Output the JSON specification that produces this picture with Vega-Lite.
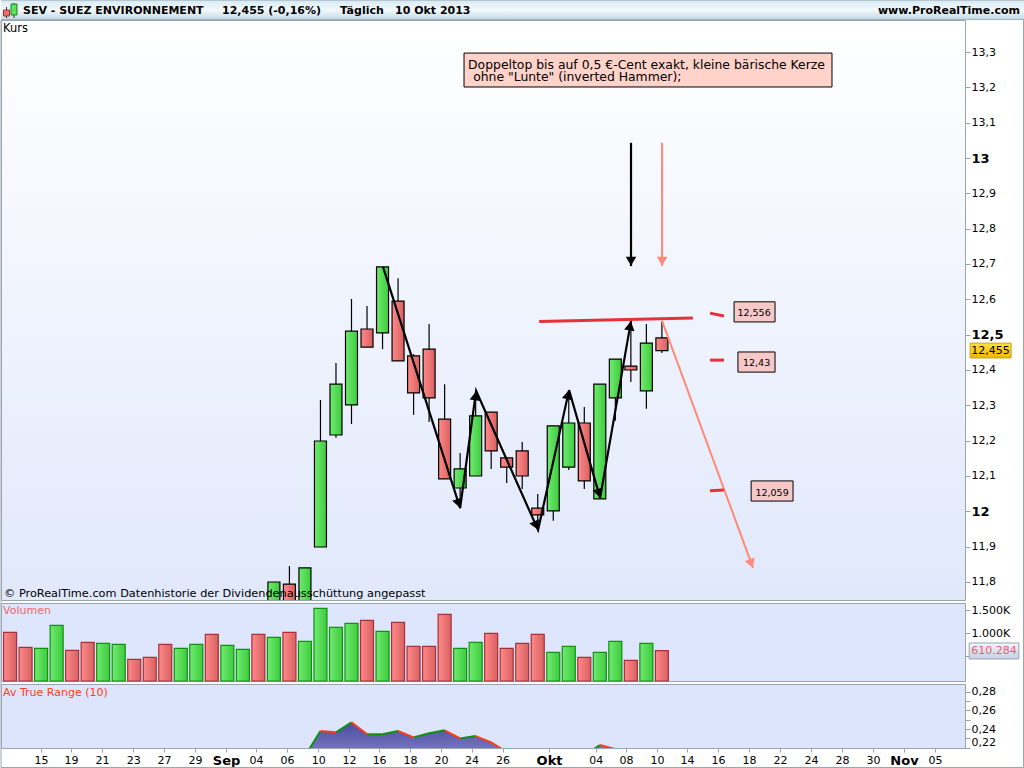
{"$schema":"https://vega.github.io/schema/vega-lite/v6.json","padding":0,"background":"#ffffff","config":{"font":"DejaVu Sans","view":{"stroke":"#98a4b0"},"axis":{"grid":false,"title":null,"domainColor":"#98a4b0","tickColor":"#98a4b0","labelColor":"#000000","labelFont":"DejaVu Sans","labelFontSize":11,"labelOverlap":false,"labelFlush":false}},
"datasets":{"bars":[
{"slot":0,"date":"2013-08-13","dir":"down","volume":1015},{"slot":1,"date":"2013-08-14","dir":"down","volume":684},{"slot":2,"date":"2013-08-15","dir":"up","volume":662},{"slot":3,"date":"2013-08-16","dir":"up","volume":1169},{"slot":4,"date":"2013-08-19","dir":"down","volume":618},{"slot":5,"date":"2013-08-20","dir":"down","volume":794},{"slot":6,"date":"2013-08-21","dir":"up","volume":772},{"slot":7,"date":"2013-08-22","dir":"up","volume":750},{"slot":8,"date":"2013-08-23","dir":"down","volume":420},{"slot":9,"date":"2013-08-26","dir":"down","volume":464},{"slot":10,"date":"2013-08-27","dir":"down","volume":750},{"slot":11,"date":"2013-08-28","dir":"up","volume":662},{"slot":12,"date":"2013-08-29","dir":"up","volume":750},{"slot":13,"date":"2013-08-30","dir":"down","volume":971},{"slot":14,"date":"2013-09-02","dir":"up","volume":728},{"slot":15,"date":"2013-09-03","dir":"up","volume":640},{"slot":16,"date":"2013-09-04","dir":"down","volume":971},
{"slot":17,"date":"2013-09-05","dir":"up","volume":905,"open":11.7,"high":11.8,"low":11.7,"close":11.8},
{"slot":18,"date":"2013-09-06","dir":"down","volume":1015,"open":11.794,"high":11.845,"low":11.7,"close":11.7},
{"slot":19,"date":"2013-09-09","dir":"up","volume":816,"open":11.7,"high":11.84,"low":11.7,"close":11.84,"atr":0.2108},
{"slot":20,"date":"2013-09-10","dir":"up","volume":1543,"open":11.899,"high":12.315,"low":11.899,"close":12.199,"atr":0.2378},
{"slot":21,"date":"2013-09-11","dir":"up","volume":1125,"open":12.216,"high":12.42,"low":12.208,"close":12.36,"atr":0.2364},
{"slot":22,"date":"2013-09-12","dir":"up","volume":1213,"open":12.301,"high":12.601,"low":12.247,"close":12.51,"atr":0.2472},
{"slot":23,"date":"2013-09-13","dir":"down","volume":1279,"open":12.516,"high":12.581,"low":12.465,"close":12.465,"atr":0.2343},
{"slot":24,"date":"2013-09-16","dir":"up","volume":1037,"open":12.505,"high":12.692,"low":12.459,"close":12.692,"atr":0.2343},
{"slot":25,"date":"2013-09-17","dir":"down","volume":1235,"open":12.595,"high":12.66,"low":12.426,"close":12.426,"atr":0.2378},
{"slot":26,"date":"2013-09-18","dir":"down","volume":706,"open":12.44,"high":12.445,"low":12.273,"close":12.335,"atr":0.231},
{"slot":27,"date":"2013-09-19","dir":"down","volume":706,"open":12.459,"high":12.53,"low":12.253,"close":12.321,"atr":0.2354},
{"slot":28,"date":"2013-09-20","dir":"down","volume":1411,"open":12.261,"high":12.36,"low":12.092,"close":12.092,"atr":0.2386},
{"slot":29,"date":"2013-09-23","dir":"up","volume":662,"open":12.066,"high":12.165,"low":12.032,"close":12.12,"atr":0.2299},
{"slot":30,"date":"2013-09-24","dir":"up","volume":794,"open":12.1,"high":12.338,"low":12.1,"close":12.27,"atr":0.2324},
{"slot":31,"date":"2013-09-25","dir":"down","volume":993,"open":12.281,"high":12.281,"low":12.12,"close":12.171,"atr":0.2256},
{"slot":32,"date":"2013-09-26","dir":"down","volume":662,"open":12.151,"high":12.154,"low":12.08,"close":12.125,"atr":0.2151},
{"slot":33,"date":"2013-09-27","dir":"down","volume":772,"open":12.171,"high":12.196,"low":12.063,"close":12.1,"atr":0.212},
{"slot":34,"date":"2013-09-30","dir":"down","volume":971,"open":12.009,"high":12.049,"low":11.947,"close":11.99,"atr":0.21},
{"slot":35,"date":"2013-10-01","dir":"up","volume":574,"open":12.001,"high":12.242,"low":11.973,"close":12.242,"atr":0.208},
{"slot":36,"date":"2013-10-02","dir":"up","volume":706,"open":12.125,"high":12.343,"low":12.117,"close":12.25,"atr":0.207},
{"slot":37,"date":"2013-10-03","dir":"down","volume":464,"open":12.25,"high":12.295,"low":12.063,"close":12.086,"atr":0.2111},
{"slot":38,"date":"2013-10-04","dir":"up","volume":574,"open":12.035,"high":12.36,"low":12.035,"close":12.36,"atr":0.2227},
{"slot":39,"date":"2013-10-07","dir":"up","volume":816,"open":12.321,"high":12.431,"low":12.256,"close":12.431,"atr":0.2183},
{"slot":40,"date":"2013-10-08","dir":"down","volume":398,"open":12.411,"high":12.533,"low":12.366,"close":12.4,"atr":0.216},
{"slot":41,"date":"2013-10-09","dir":"up","volume":772,"open":12.341,"high":12.53,"low":12.29,"close":12.476,"atr":0.214},
{"slot":42,"date":"2013-10-10","dir":"down","volume":610.284,"open":12.491,"high":12.539,"low":12.448,"close":12.455,"atr":0.212}
],
"lines":[
{"id":"zig","tone":"black","ord":0,"s":24.03,"p":12.692},{"id":"zig","tone":"black","ord":1,"s":29.0,"p":12.009},{"id":"zig","tone":"black","ord":2,"s":30.03,"p":12.341},{"id":"zig","tone":"black","ord":3,"s":34.02,"p":11.947},{"id":"zig","tone":"black","ord":4,"s":36.02,"p":12.343},{"id":"zig","tone":"black","ord":5,"s":38.02,"p":12.038},{"id":"zig","tone":"black","ord":6,"s":40.01,"p":12.539},
{"id":"v1","tone":"black","ord":0,"s":40.01,"p":13.043},{"id":"v1","tone":"black","ord":1,"s":40.01,"p":12.694},
{"id":"v2","tone":"salmon","ord":0,"s":42.01,"p":13.043},{"id":"v2","tone":"salmon","ord":1,"s":42.01,"p":12.694},
{"id":"d1","tone":"salmon","ord":0,"s":42.01,"p":12.539},{"id":"d1","tone":"salmon","ord":1,"s":47.87,"p":11.84},
{"id":"top","tone":"red","ord":0,"s":34.09,"p":12.537},{"id":"top","tone":"red","ord":1,"s":44.0,"p":12.547},
{"id":"m1","tone":"red","ord":0,"s":45.1,"p":12.561},{"id":"m1","tone":"red","ord":1,"s":46.0,"p":12.553},
{"id":"m2","tone":"red","ord":0,"s":45.1,"p":12.428},{"id":"m2","tone":"red","ord":1,"s":46.0,"p":12.428},
{"id":"m3","tone":"red","ord":0,"s":45.1,"p":12.058},{"id":"m3","tone":"red","ord":1,"s":46.0,"p":12.06}],
"heads":[
{"tone":"black","s":28.9,"p":12.022,"heading":162.3},{"tone":"black","s":29.99,"p":12.327,"heading":7.8},{"tone":"black","s":33.89,"p":11.96,"heading":156},{"tone":"black","s":35.95,"p":12.33,"heading":12.5},{"tone":"black","s":37.94,"p":12.051,"heading":164},{"tone":"black","s":39.95,"p":12.525,"heading":9.9},{"tone":"black","s":40.01,"p":12.708,"heading":180},
{"tone":"salmon","s":42.01,"p":12.708,"heading":180},{"tone":"salmon","s":47.76,"p":11.852,"heading":159.8}],
"boxes":[{"name":"note","s":29.25,"s2":52.96,"p":13.297,"p2":13.201},{"name":"a","s":46.65,"s2":49.29,"p":12.593,"p2":12.536},{"name":"b","s":46.9,"s2":49.29,"p":12.451,"p2":12.394},{"name":"c","s":47.75,"s2":50.45,"p":12.086,"p2":12.029}]},
"bounds":"flush","spacing":0,
"vconcat":[
{"width":1024,"height":20,"view":{"stroke":null,"fill":{"gradient":"linear","x1":0,"y1":0,"x2":0,"y2":1,"stops":[{"offset":0,"color":"#a4b8c2"},{"offset":0.08,"color":"#dcecf4"},{"offset":0.5,"color":"#f2f9fc"},{"offset":0.92,"color":"#c8dde8"},{"offset":1,"color":"#90a0aa"}]}},
"encoding":{"x":{"field":"h","type":"quantitative","axis":null,"scale":{"domain":[1,1025],"nice":false,"zero":false,"padding":0}},"y":{"field":"v","type":"quantitative","axis":null,"scale":{"domain":[20,0],"nice":false,"zero":false}}},
"layer":[
{"data":{"values":[{"h":6.5,"v":7,"v2":18,"c":"down"},{"h":14,"v":3,"v2":18,"c":"up"}]},"mark":{"type":"rule","color":"#333333"},"encoding":{"y2":{"field":"v2"}}},
{"data":{"values":[{"h":6.5,"v":10,"v2":16,"c":"down"}]},"mark":{"type":"bar","size":6,"fill":"#f07070","stroke":"#a03030"},"encoding":{"y2":{"field":"v2"}}},
{"data":{"values":[{"h":14,"v":4,"v2":15,"c":"up"}]},"mark":{"type":"bar","size":6,"fill":"#60e060","stroke":"#208020"},"encoding":{"y2":{"field":"v2"}}},
{"data":{"values":[{"h":23,"v":11,"t":"SEV - SUEZ ENVIRONNEMENT"},{"h":222,"v":11,"t":"12,455 (-0,16%)"},{"h":340,"v":11,"t":"Täglich"},{"h":395,"v":11,"t":"10 Okt 2013"}]},"mark":{"type":"text","align":"left","baseline":"middle","fontWeight":"bold","fontSize":11,"color":"#000000"},"encoding":{"text":{"field":"t"}}},
{"data":{"values":[{"h":1020,"v":11,"t":"www.ProRealTime.com"}]},"mark":{"type":"text","align":"right","baseline":"middle","fontWeight":"bold","fontSize":11,"color":"#000000"},"encoding":{"text":{"field":"t"}}}
]},
{"bounds":"flush","spacing":3,"vconcat":[
{"width":964,"height":580,"view":{"stroke":"#98a4b0","fill":{"gradient":"linear","x1":0,"y1":0,"x2":0,"y2":1,"stops":[{"offset":0,"color":"#ffffff"},{"offset":1,"color":"#e0e8fb"}]}},
"encoding":{"x":{"field":"slot","type":"quantitative","axis":null,"scale":{"domain":[-0.584,61.53],"nice":false,"zero":false,"padding":0}},"y":{"type":"quantitative","scale":{"domain":[11.749,13.3906],"nice":false,"zero":false},"axis":{"orient":"right","values":[11.8,11.9,12,12.1,12.2,12.3,12.4,12.5,12.6,12.7,12.8,12.9,13,13.1,13.2,13.3],"tickSize":5,"labelPadding":1,"labelExpr":"replace(replace(format(datum.value,'.1f'),'.0',''),'.',',')","labelFontWeight":{"condition":{"test":"datum.value==12||datum.value==12.5||datum.value==13","value":"bold"},"value":"normal"},"labelFontSize":{"condition":{"test":"datum.value==12||datum.value==12.5||datum.value==13","value":13},"value":11}}}},
"layer":[
{"data":{"name":"bars"},"transform":[{"filter":"isValid(datum.open)"}],"mark":{"type":"rule","color":"#000000","strokeWidth":1.2,"clip":true},"encoding":{"y":{"field":"low"},"y2":{"field":"high"}}},
{"data":{"name":"bars"},"transform":[{"filter":"isValid(datum.open)&&datum.dir=='up'"}],"mark":{"type":"bar","size":12,"stroke":"#000000","strokeWidth":1.2,"clip":true,"fill":{"gradient":"linear","x1":0,"y1":0,"x2":1,"y2":0,"stops":[{"offset":0,"color":"#72ea72"},{"offset":1,"color":"#3ccc3c"}]}},"encoding":{"y":{"field":"open"},"y2":{"field":"close"}}},
{"data":{"name":"bars"},"transform":[{"filter":"isValid(datum.open)&&datum.dir=='down'"}],"mark":{"type":"bar","size":12,"stroke":"#000000","strokeWidth":1.2,"clip":true,"fill":{"gradient":"linear","x1":0,"y1":0,"x2":1,"y2":0,"stops":[{"offset":0,"color":"#ff8a8a"},{"offset":1,"color":"#d86060"}]}},"encoding":{"y":{"field":"open"},"y2":{"field":"close"}}},
{"data":{"name":"lines"},"transform":[{"filter":"datum.tone=='black'"}],"mark":{"type":"line","color":"#000000","strokeWidth":2.2},"encoding":{"x":{"field":"s"},"y":{"field":"p"},"detail":{"field":"id"},"order":{"field":"ord"}}},
{"data":{"name":"lines"},"transform":[{"filter":"datum.tone=='salmon'"}],"mark":{"type":"line","color":"#ff8a7a","strokeWidth":2},"encoding":{"x":{"field":"s"},"y":{"field":"p"},"detail":{"field":"id"},"order":{"field":"ord"}}},
{"data":{"name":"lines"},"transform":[{"filter":"datum.tone=='red'"}],"mark":{"type":"line","color":"#e83038","strokeWidth":3},"encoding":{"x":{"field":"s"},"y":{"field":"p"},"detail":{"field":"id"},"order":{"field":"ord"}}},
{"data":{"name":"heads"},"transform":[{"filter":"datum.tone=='black'"}],"mark":{"type":"point","shape":"triangle-up","filled":true,"size":110,"color":"#000000","opacity":1},"encoding":{"x":{"field":"s"},"y":{"field":"p"},"angle":{"field":"heading","type":"quantitative","scale":null}}},
{"data":{"name":"heads"},"transform":[{"filter":"datum.tone=='salmon'"}],"mark":{"type":"point","shape":"triangle-up","filled":true,"size":110,"color":"#ff8a7a","opacity":1},"encoding":{"x":{"field":"s"},"y":{"field":"p"},"angle":{"field":"heading","type":"quantitative","scale":null}}},
{"data":{"name":"boxes"},"transform":[{"filter":"datum.name=='note'"}],"mark":{"type":"rect","fill":"#ffd2ca","stroke":"#000000","strokeWidth":1},"encoding":{"x":{"field":"s"},"x2":{"field":"s2"},"y":{"field":"p"},"y2":{"field":"p2"}}},
{"data":{"name":"boxes"},"transform":[{"filter":"datum.name!='note'"}],"mark":{"type":"rect","fill":"#f6c8c8","stroke":"#000000","strokeWidth":1},"encoding":{"x":{"field":"s"},"x2":{"field":"s2"},"y":{"field":"p"},"y2":{"field":"p2"}}},
{"data":{"values":[{"s":-0.45,"p":13.365,"t":"Kurs"}]},"mark":{"type":"text","align":"left","baseline":"middle","fontSize":11.4,"color":"#000000"},"encoding":{"x":{"field":"s"},"y":{"field":"p"},"text":{"field":"t"}}},
{"data":{"values":[{"s":-0.39,"p":11.766,"t":"© ProRealTime.com Datenhistorie der Dividendenausschüttung angepasst"}]},"mark":{"type":"text","align":"left","baseline":"middle","fontSize":11.3,"color":"#000000"},"encoding":{"x":{"field":"s"},"y":{"field":"p"},"text":{"field":"t"}}},
{"data":{"values":[{"s":29.51,"p":13.262,"t":"Doppeltop bis auf 0,5 €-Cent exakt, kleine bärische Kerze"},{"s":29.84,"p":13.228,"t":"ohne \"Lunte\" (inverted Hammer);"}]},"mark":{"type":"text","align":"left","baseline":"middle","fontSize":12.4,"color":"#000000"},"encoding":{"x":{"field":"s"},"y":{"field":"p"},"text":{"field":"t"}}},
{"data":{"values":[{"s":47.94,"p":12.561,"t":"12,556"},{"s":48.1,"p":12.42,"t":"12,43"},{"s":49.1,"p":12.053,"t":"12,059"}]},"mark":{"type":"text","align":"center","baseline":"middle","fontSize":9.5,"color":"#000000"},"encoding":{"x":{"field":"s"},"y":{"field":"p"},"text":{"field":"t"}}},
{"data":{"values":[{"s":61.86,"s2":64.5,"p":12.476,"p2":12.434}]},"mark":{"type":"rect","fill":{"gradient":"linear","x1":0,"y1":0,"x2":0,"y2":1,"stops":[{"offset":0,"color":"#ffe040"},{"offset":1,"color":"#f0b800"}]},"stroke":"#c8a020","strokeWidth":1},"encoding":{"x":{"field":"s"},"x2":{"field":"s2"},"y":{"field":"p"},"y2":{"field":"p2"}}},
{"data":{"values":[{"s":63.18,"p":12.455,"t":"12,455"}]},"mark":{"type":"text","align":"center","baseline":"middle","fontSize":11,"color":"#000000"},"encoding":{"x":{"field":"s"},"y":{"field":"p"},"text":{"field":"t"}}},
{"data":{"values":[{"s":65.3,"p":13.3906,"p2":11.275}]},"mark":{"type":"rule","color":"#98a4b0","strokeWidth":1},"encoding":{"x":{"field":"s"},"y":{"field":"p"},"y2":{"field":"p2"}}},
{"data":{"values":[{"s":-0.584,"p":13.3906,"p2":11.275}]},"mark":{"type":"rule","color":"#98a4b0","strokeWidth":1},"encoding":{"x":{"field":"s"},"y":{"field":"p"},"y2":{"field":"p2"}}}
]},
{"width":964,"height":78,"view":{"stroke":"#98a4b0","fill":"#dde6fc"},
"encoding":{"x":{"field":"slot","type":"quantitative","axis":null,"scale":{"domain":[-0.584,61.53],"nice":false,"zero":false,"padding":0}},"y":{"type":"quantitative","scale":{"domain":[-57,1661],"nice":false,"zero":false},"axis":{"orient":"right","values":[500,1000,1500],"tickSize":5,"labelPadding":1,"labelExpr":"datum.value==500?'':format(datum.value/1000,'.3f')+'K'"}}},
"layer":[
{"data":{"name":"bars"},"transform":[{"filter":"datum.dir=='up'"}],"mark":{"type":"bar","size":13,"stroke":"#129012","strokeWidth":1.2,"fill":{"gradient":"linear","x1":0,"y1":0,"x2":1,"y2":0,"stops":[{"offset":0,"color":"#72ea72"},{"offset":1,"color":"#3ccc3c"}]}},"encoding":{"y":{"field":"volume"},"y2":{"datum":-57}}},
{"data":{"name":"bars"},"transform":[{"filter":"datum.dir=='down'"}],"mark":{"type":"bar","size":13,"stroke":"#a83038","strokeWidth":1.2,"fill":{"gradient":"linear","x1":0,"y1":0,"x2":1,"y2":0,"stops":[{"offset":0,"color":"#ff8a8a"},{"offset":1,"color":"#d86060"}]}},"encoding":{"y":{"field":"volume"},"y2":{"datum":-57}}},
{"data":{"values":[{"s":-0.45,"p":1485,"t":"Volumen"}]},"mark":{"type":"text","align":"left","baseline":"middle","fontSize":11,"color":"#f06868"},"encoding":{"x":{"field":"s"},"y":{"field":"p"},"text":{"field":"t"}}},
{"data":{"values":[{"s":61.8,"s2":65,"p":780,"p2":428}]},"mark":{"type":"rect","stroke":"#98a4b0","strokeWidth":1,"fill":{"gradient":"linear","x1":0,"y1":0,"x2":0,"y2":1,"stops":[{"offset":0,"color":"#f2f4fc"},{"offset":1,"color":"#c8d0e8"}]}},"encoding":{"x":{"field":"s"},"x2":{"field":"s2"},"y":{"field":"p"},"y2":{"field":"p2"}}},
{"data":{"values":[{"s":63.4,"p":604,"t":"610.284"}]},"mark":{"type":"text","align":"center","baseline":"middle","fontSize":11,"color":"#e86070"},"encoding":{"x":{"field":"s"},"y":{"field":"p"},"text":{"field":"t"}}}
]},
{"width":964,"height":64,"view":{"stroke":"#98a4b0","fill":"#dce5fc"},
"data":{"name":"bars"},
"encoding":{"x":{"field":"slot","type":"quantitative","scale":{"domain":[-0.584,61.53],"nice":false,"zero":false,"padding":0},"axis":{"orient":"bottom","values":[1.997,3.93,5.93,7.93,9.92,11.92,13.92,15.85,17.85,19.85,21.84,23.78,25.77,27.77,29.74,31.73,34.73,37.73,39.69,41.69,43.62,45.62,47.62,49.61,51.61,53.61,55.61,57.6,59.6],"tickSize":4,"labelPadding":2,"labelAngle":0,"labelExpr":"['15','19','21','23','27','29','Sep','04','06','10','12','16','18','20','24','26','Okt','04','08','10','14','16','18','22','24','28','30','Nov','05'][indexof([1.997,3.93,5.93,7.93,9.92,11.92,13.92,15.85,17.85,19.85,21.84,23.78,25.77,27.77,29.74,31.73,34.73,37.73,39.69,41.69,43.62,45.62,47.62,49.61,51.61,53.61,55.61,57.6,59.6],datum.value)]","labelFontWeight":{"condition":{"test":"datum.value==13.92||datum.value==34.73||datum.value==57.6","value":"bold"},"value":"normal"},"labelFontSize":{"condition":{"test":"datum.value==13.92||datum.value==34.73||datum.value==57.6","value":13},"value":11}}},"y":{"type":"quantitative","scale":{"domain":[0.2195,0.2886],"nice":false,"zero":false},"axis":{"orient":"right","values":[0.28,0.27,0.26,0.25,0.24,0.23,0.22],"tickSize":5,"labelPadding":1,"labelExpr":"round(datum.value*100)%2==0?replace(format(datum.value,'.2f'),'.',','):''","labelBaseline":{"condition":{"test":"datum.value==0.22","value":"bottom"},"value":"middle"}}}},
"layer":[
{"transform":[{"filter":"isValid(datum.atr)"}],"mark":{"type":"area","clip":true,"fill":{"gradient":"linear","x1":0,"y1":0,"x2":0,"y2":1,"stops":[{"offset":0,"color":"#4c4ca0"},{"offset":1,"color":"#8c8cd0"}]}},"encoding":{"y":{"field":"atr"},"y2":{"datum":0.2}}},
{"transform":[{"filter":"isValid(datum.atr)"},{"sort":[{"field":"slot"}],"window":[{"op":"lag","field":"atr","as":"prevAtr"},{"op":"lag","field":"slot","as":"prevSlot"}]},{"filter":"isValid(datum.prevAtr)&&datum.atr>=datum.prevAtr"}],"mark":{"type":"rule","clip":true,"color":"#109010","strokeWidth":2},"encoding":{"x":{"field":"prevSlot"},"x2":{"field":"slot"},"y":{"field":"prevAtr"},"y2":{"field":"atr"}}},
{"transform":[{"filter":"isValid(datum.atr)"},{"sort":[{"field":"slot"}],"window":[{"op":"lag","field":"atr","as":"prevAtr"},{"op":"lag","field":"slot","as":"prevSlot"}]},{"filter":"isValid(datum.prevAtr)&&datum.atr<datum.prevAtr"}],"mark":{"type":"rule","clip":true,"color":"#ff3c10","strokeWidth":2},"encoding":{"x":{"field":"prevSlot"},"x2":{"field":"slot"},"y":{"field":"prevAtr"},"y2":{"field":"atr"}}},
{"data":{"values":[{"s":-0.45,"p":0.2788,"t":"Av True Range (10)"}]},"mark":{"type":"text","align":"left","baseline":"middle","fontSize":11,"color":"#ff4020"},"encoding":{"x":{"field":"s"},"y":{"field":"p"},"text":{"field":"t"}}},
{"data":{"values":[{"s":-0.584,"s2":65.3,"p":0.1984}]},"mark":{"type":"rule","color":"#98a4b0","strokeWidth":1},"encoding":{"x":{"field":"s"},"x2":{"field":"s2"},"y":{"field":"p"}}}
]}
]}
]}
